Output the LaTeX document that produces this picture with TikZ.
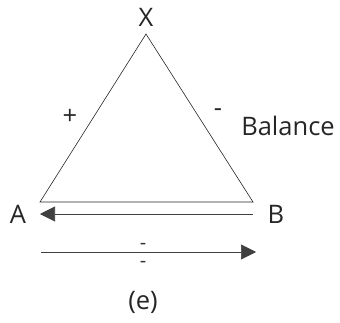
\documentclass[tikz,border=0pt]{standalone}
\usepackage{fontspec}
\setmainfont{Open Sans}
\usetikzlibrary{arrows.meta}
\begin{document}
\begin{tikzpicture}[x=1pt,y=-1pt,
  lbl/.style={font=\fontsize{25.5}{28}\selectfont, inner sep=0pt, text=black!85},
  dsh/.style={font=\fontsize{20}{20}\selectfont, inner sep=0pt, text=black!80},
  edge/.style={line width=0.6pt, black!85},
  arr/.style={line width=0.6pt, black!75, -{Triangle[length=15pt,width=15pt]}}]
\useasboundingbox (0,0) rectangle (340,322);
\coordinate (x) at (146,34);
\coordinate (l) at (40,202);
\coordinate (r) at (253,202);
\draw[edge] (l) -- (x) -- (r) -- cycle;
\coordinate (a1) at (253,214);
\coordinate (a2) at (40,214);
\draw[arr] (a1) -- (a2);
\coordinate (b1) at (41,252);
\coordinate (b2) at (256,252);
\draw[arr] (b1) -- (b2);
\node[lbl] (X) at (146,17) {X};
\node[lbl] (A) at (18,214) {A};
\node[lbl] (B) at (276,214) {B};
\node[lbl] (plus) at (70,117) {+};
\node[lbl] (minus) at (218,113) {-};
\node[lbl] (bal) at (288,126) {Balance};
\node[dsh] (d1) at (143,246) {-};
\node[dsh] (d2) at (143,264.5) {-};
\node[lbl] (e) at (143,302) {(e)};
\end{tikzpicture}
\end{document}
